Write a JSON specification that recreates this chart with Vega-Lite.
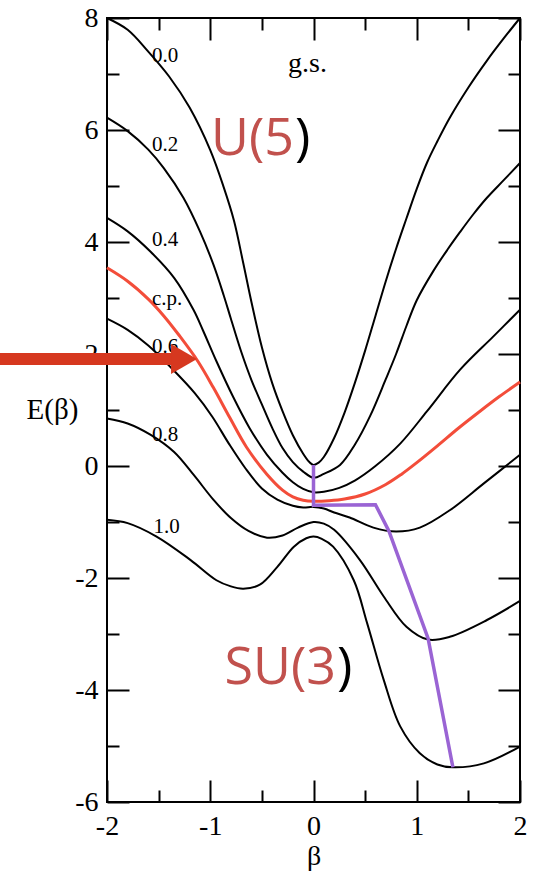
{
  "$schema": "https://vega.github.io/schema/vega-lite/v6.json",
  "width": 413,
  "height": 784,
  "autosize": {"type": "none"},
  "padding": {"left": 107, "top": 18, "right": 17, "bottom": 73},
  "background": "white",
  "config": {
    "view": {"stroke": "black", "strokeWidth": 2},
    "font": "Liberation Serif",
    "axis": {"labelFont": "Liberation Serif", "labelFontSize": 28, "labelColor": "black", "titleFont": "Liberation Serif", "titleFontWeight": "normal", "titleColor": "black"}
  },
  "datasets": {
    "black": [
      {"c":"0.0","b":-2,"E":8},{"c":"0.0","b":-1.8,"E":7.79},{"c":"0.0","b":-1.6,"E":7.4},{"c":"0.0","b":-1.4,"E":6.96},{"c":"0.0","b":-1.2,"E":6.4},{"c":"0.0","b":-1,"E":5.64},{"c":"0.0","b":-0.87,"E":4.98},{"c":"0.0","b":-0.77,"E":4.38},{"c":"0.0","b":-0.68,"E":3.62},{"c":"0.0","b":-0.6,"E":2.92},{"c":"0.0","b":-0.5,"E":2.12},{"c":"0.0","b":-0.4,"E":1.48},{"c":"0.0","b":-0.3,"E":0.98},{"c":"0.0","b":-0.2,"E":0.55},{"c":"0.0","b":-0.1,"E":0.22},{"c":"0.0","b":-0.04,"E":0.07},{"c":"0.0","b":0,"E":0.02},{"c":"0.0","b":0.05,"E":0.06},{"c":"0.0","b":0.1,"E":0.16},{"c":"0.0","b":0.2,"E":0.5},{"c":"0.0","b":0.3,"E":0.95},{"c":"0.0","b":0.4,"E":1.48},{"c":"0.0","b":0.5,"E":2.06},{"c":"0.0","b":0.6,"E":2.68},{"c":"0.0","b":0.7,"E":3.3},{"c":"0.0","b":0.8,"E":3.88},{"c":"0.0","b":0.9,"E":4.42},{"c":"0.0","b":1,"E":4.95},{"c":"0.0","b":1.1,"E":5.42},{"c":"0.0","b":1.2,"E":5.8},{"c":"0.0","b":1.32,"E":6.22},{"c":"0.0","b":1.5,"E":6.76},{"c":"0.0","b":1.68,"E":7.24},{"c":"0.0","b":1.84,"E":7.63},{"c":"0.0","b":2,"E":8},
      {"c":"0.2","b":-2,"E":6.22},{"c":"0.2","b":-1.8,"E":5.98},{"c":"0.2","b":-1.6,"E":5.65},{"c":"0.2","b":-1.45,"E":5.32},{"c":"0.2","b":-1.26,"E":4.79},{"c":"0.2","b":-1.1,"E":4.19},{"c":"0.2","b":-0.97,"E":3.6},{"c":"0.2","b":-0.87,"E":3.05},{"c":"0.2","b":-0.8,"E":2.63},{"c":"0.2","b":-0.7,"E":2.04},{"c":"0.2","b":-0.6,"E":1.53},{"c":"0.2","b":-0.5,"E":1.1},{"c":"0.2","b":-0.4,"E":0.68},{"c":"0.2","b":-0.3,"E":0.32},{"c":"0.2","b":-0.2,"E":0.07},{"c":"0.2","b":-0.1,"E":-0.1},{"c":"0.2","b":0,"E":-0.21},{"c":"0.2","b":0.1,"E":-0.14},{"c":"0.2","b":0.257,"E":0.02},{"c":"0.2","b":0.4,"E":0.38},{"c":"0.2","b":0.55,"E":0.9},{"c":"0.2","b":0.7,"E":1.55},{"c":"0.2","b":0.8,"E":2.0},{"c":"0.2","b":0.9,"E":2.5},{"c":"0.2","b":1,"E":2.96},{"c":"0.2","b":1.16,"E":3.48},{"c":"0.2","b":1.3,"E":3.87},{"c":"0.2","b":1.42,"E":4.18},{"c":"0.2","b":1.55,"E":4.5},{"c":"0.2","b":1.68,"E":4.79},{"c":"0.2","b":1.84,"E":5.1},{"c":"0.2","b":2,"E":5.41},
      {"c":"0.4","b":-2,"E":4.43},{"c":"0.4","b":-1.8,"E":4.19},{"c":"0.4","b":-1.58,"E":3.83},{"c":"0.4","b":-1.35,"E":3.36},{"c":"0.4","b":-1.16,"E":2.78},{"c":"0.4","b":-1.07,"E":2.42},{"c":"0.4","b":-0.94,"E":1.87},{"c":"0.4","b":-0.78,"E":1.24},{"c":"0.4","b":-0.62,"E":0.68},{"c":"0.4","b":-0.45,"E":0.2},{"c":"0.4","b":-0.3,"E":-0.12},{"c":"0.4","b":-0.2,"E":-0.29},{"c":"0.4","b":-0.1,"E":-0.41},{"c":"0.4","b":0,"E":-0.47},{"c":"0.4","b":0.1,"E":-0.46},{"c":"0.4","b":0.25,"E":-0.39},{"c":"0.4","b":0.4,"E":-0.26},{"c":"0.4","b":0.6,"E":0.0},{"c":"0.4","b":0.84,"E":0.4},{"c":"0.4","b":1.1,"E":0.98},{"c":"0.4","b":1.42,"E":1.72},{"c":"0.4","b":1.74,"E":2.31},{"c":"0.4","b":2,"E":2.79},
      {"c":"0.6","b":-2,"E":2.63},{"c":"0.6","b":-1.8,"E":2.43},{"c":"0.6","b":-1.6,"E":2.15},{"c":"0.6","b":-1.35,"E":1.7},{"c":"0.6","b":-1.15,"E":1.3},{"c":"0.6","b":-0.98,"E":0.88},{"c":"0.6","b":-0.82,"E":0.4},{"c":"0.6","b":-0.66,"E":-0.04},{"c":"0.6","b":-0.5,"E":-0.4},{"c":"0.6","b":-0.35,"E":-0.6},{"c":"0.6","b":-0.2,"E":-0.71},{"c":"0.6","b":-0.1,"E":-0.74},{"c":"0.6","b":0,"E":-0.73},{"c":"0.6","b":0.1,"E":-0.76},{"c":"0.6","b":0.2,"E":-0.83},{"c":"0.6","b":0.35,"E":-0.92},{"c":"0.6","b":0.58,"E":-1.1},{"c":"0.6","b":0.8,"E":-1.17},{"c":"0.6","b":1.03,"E":-1.1},{"c":"0.6","b":1.32,"E":-0.79},{"c":"0.6","b":1.65,"E":-0.31},{"c":"0.6","b":2,"E":0.2},
      {"c":"0.8","b":-2,"E":0.85},{"c":"0.8","b":-1.8,"E":0.76},{"c":"0.8","b":-1.58,"E":0.56},{"c":"0.8","b":-1.35,"E":0.25},{"c":"0.8","b":-1.16,"E":-0.16},{"c":"0.8","b":-0.97,"E":-0.6},{"c":"0.8","b":-0.8,"E":-0.93},{"c":"0.8","b":-0.63,"E":-1.16},{"c":"0.8","b":-0.45,"E":-1.28},{"c":"0.8","b":-0.3,"E":-1.24},{"c":"0.8","b":-0.15,"E":-1.1},{"c":"0.8","b":0,"E":-1.0},{"c":"0.8","b":0.1,"E":-1.03},{"c":"0.8","b":0.2,"E":-1.14},{"c":"0.8","b":0.45,"E":-1.68},{"c":"0.8","b":0.68,"E":-2.33},{"c":"0.8","b":0.9,"E":-2.87},{"c":"0.8","b":1.11,"E":-3.1},{"c":"0.8","b":1.32,"E":-3.05},{"c":"0.8","b":1.68,"E":-2.75},{"c":"0.8","b":2,"E":-2.41},
      {"c":"1.0","b":-2,"E":-0.96},{"c":"1.0","b":-1.8,"E":-1.02},{"c":"1.0","b":-1.52,"E":-1.26},{"c":"1.0","b":-1.19,"E":-1.68},{"c":"1.0","b":-0.94,"E":-2.04},{"c":"1.0","b":-0.8,"E":-2.15},{"c":"1.0","b":-0.68,"E":-2.19},{"c":"1.0","b":-0.52,"E":-2.12},{"c":"1.0","b":-0.35,"E":-1.8},{"c":"1.0","b":-0.19,"E":-1.44},{"c":"1.0","b":-0.07,"E":-1.29},{"c":"1.0","b":0,"E":-1.26},{"c":"1.0","b":0.08,"E":-1.3},{"c":"1.0","b":0.19,"E":-1.44},{"c":"1.0","b":0.39,"E":-2.04},{"c":"1.0","b":0.52,"E":-2.81},{"c":"1.0","b":0.68,"E":-3.82},{"c":"1.0","b":0.84,"E":-4.65},{"c":"1.0","b":1.03,"E":-5.13},{"c":"1.0","b":1.2,"E":-5.33},{"c":"1.0","b":1.35,"E":-5.38},{"c":"1.0","b":1.65,"E":-5.31},{"c":"1.0","b":2,"E":-5.01}
    ],
    "cp": [
      {"b":-2,"E":3.54},{"b":-1.8,"E":3.3},{"b":-1.6,"E":2.98},{"b":-1.45,"E":2.68},{"b":-1.3,"E":2.33},{"b":-1.12,"E":1.87},{"b":-0.97,"E":1.4},{"b":-0.81,"E":0.86},{"b":-0.65,"E":0.34},{"b":-0.45,"E":-0.15},{"b":-0.3,"E":-0.43},{"b":-0.2,"E":-0.55},{"b":-0.1,"E":-0.61},{"b":0,"E":-0.63},{"b":0.15,"E":-0.62},{"b":0.3,"E":-0.59},{"b":0.5,"E":-0.5},{"b":0.7,"E":-0.33},{"b":0.85,"E":-0.15},{"b":1,"E":0.06},{"b":1.2,"E":0.36},{"b":1.4,"E":0.67},{"b":1.6,"E":0.96},{"b":1.8,"E":1.24},{"b":2,"E":1.5}
    ],
    "path": [
      {"k":1,"b":0,"E":0.02},{"k":2,"b":0,"E":-0.7},{"k":3,"b":0.6,"E":-0.69},{"k":4,"b":0.73,"E":-1.16},{"k":5,"b":1.11,"E":-3.08},{"k":6,"b":1.35,"E":-5.38}
    ],
    "labels": [
      {"t":"0.0","b":-1.564,"E":7.21},{"t":"0.2","b":-1.564,"E":5.625},{"t":"0.4","b":-1.564,"E":3.93},{"t":"c.p.","b":-1.564,"E":2.875},{"t":"0.6","b":-1.564,"E":2.02},{"t":"0.8","b":-1.564,"E":0.446},{"t":"1.0","b":-1.55,"E":-1.196}
    ],
    "gs": [{"t":"g.s.","b":-0.247,"E":7.036}],
    "group": [{"red":"U(5","blk":")","b":-0.189,"E":5.553},{"red":"SU(3","blk":")","b":0.218,"E":-3.89}],
    "arrow": [{"b":-3.04,"b2":-1.37,"E":1.91}],
    "head": [{"b":-1.254,"E":1.91}],
    "frame": [{"b":-2,"E":-6},{"b":2,"E":8}]
  },
  "layer": [
    {
      "layer": [
        {
          "data": {"name": "black"},
          "mark": {"type": "line", "stroke": "black", "strokeWidth": 2, "interpolate": "catmull-rom"},
          "encoding": {
            "x": {"field": "b", "type": "quantitative", "scale": {"domain": [-2, 2], "nice": false, "zero": false},
              "axis": {"orient": "bottom", "values": [-2,-1.5,-1,-0.5,0,0.5,1,1.5,2],
                "tickSize": {"condition": {"test": "datum.value % 1 === 0", "value": -22}, "value": -12},
                "tickColor": "black", "tickWidth": 2, "domain": false, "grid": false,
                "labelExpr": "datum.value % 1 === 0 ? '' + datum.value : ''",
                "labelFont": "Liberation Serif", "labelFontSize": 28, "labelColor": "black", "labelPadding": 32,
                "labelFlush": false, "labelOverlap": false,
                "title": "β", "titleFont": "Liberation Serif", "titleFontSize": 28, "titleFontWeight": "normal", "titleColor": "black",
                "titleBaseline": "alphabetic", "titleY": 62}},
            "y": {"field": "E", "type": "quantitative", "scale": {"domain": [-6, 8], "nice": false, "zero": false},
              "axis": {"orient": "left", "values": [-6,-5,-4,-3,-2,-1,0,1,2,3,4,5,6,7,8],
                "tickSize": {"condition": {"test": "datum.value % 2 === 0", "value": -22}, "value": -12},
                "tickColor": "black", "tickWidth": 2, "domain": false, "grid": false,
                "labelExpr": "datum.value % 2 === 0 ? '' + datum.value : ''",
                "labelFont": "Liberation Serif", "labelFontSize": 28, "labelColor": "black", "labelPadding": 31,
                "labelFlush": false, "labelOverlap": false,
                "title": "E(β)", "titleFont": "Liberation Serif", "titleFontSize": 29, "titleFontWeight": "normal", "titleColor": "black",
                "titleAngle": 0, "titleAlign": "center", "titleBaseline": "alphabetic", "titleX": -55, "titleY": 400}},
            "detail": {"field": "c", "type": "nominal"}
          }
        },
        {
          "data": {"name": "cp"},
          "mark": {"type": "line", "stroke": "#f34d3a", "strokeWidth": 3, "interpolate": "catmull-rom"},
          "encoding": {"x": {"field": "b", "type": "quantitative"}, "y": {"field": "E", "type": "quantitative"}}
        },
        {
          "data": {"name": "path"},
          "mark": {"type": "line", "stroke": "#9a64d4", "strokeWidth": 3.5},
          "encoding": {"x": {"field": "b", "type": "quantitative"}, "y": {"field": "E", "type": "quantitative"}, "order": {"field": "k", "type": "quantitative"}}
        },
        {
          "data": {"name": "labels"},
          "mark": {"type": "text", "font": "Liberation Serif", "fontSize": 21, "align": "left", "baseline": "alphabetic", "color": "black"},
          "encoding": {"x": {"field": "b", "type": "quantitative"}, "y": {"field": "E", "type": "quantitative"}, "text": {"field": "t"}}
        },
        {
          "data": {"name": "gs"},
          "mark": {"type": "text", "font": "Liberation Serif", "fontSize": 28, "align": "left", "baseline": "alphabetic", "color": "black"},
          "encoding": {"x": {"field": "b", "type": "quantitative"}, "y": {"field": "E", "type": "quantitative"}, "text": {"field": "t"}}
        },
        {
          "data": {"name": "group"},
          "mark": {"type": "text", "font": "Open Sans", "fontSize": 52, "align": "right", "baseline": "alphabetic", "color": "#c1514d"},
          "encoding": {"x": {"field": "b", "type": "quantitative"}, "y": {"field": "E", "type": "quantitative"}, "text": {"field": "red"}}
        },
        {
          "data": {"name": "group"},
          "mark": {"type": "text", "font": "Open Sans", "fontSize": 52, "align": "left", "baseline": "alphabetic", "color": "black", "dx": 1},
          "encoding": {"x": {"field": "b", "type": "quantitative"}, "y": {"field": "E", "type": "quantitative"}, "text": {"field": "blk"}}
        },
        {
          "data": {"name": "arrow"},
          "mark": {"type": "rule", "stroke": "#d6381f", "strokeWidth": 12, "clip": false},
          "encoding": {"x": {"field": "b", "type": "quantitative"}, "x2": {"field": "b2"}, "y": {"field": "E", "type": "quantitative"}}
        },
        {
          "data": {"name": "head"},
          "mark": {"type": "point", "shape": "triangle-right", "size": 900, "filled": true, "color": "#d6381f", "opacity": 1, "clip": false},
          "encoding": {"x": {"field": "b", "type": "quantitative"}, "y": {"field": "E", "type": "quantitative"}}
        }
      ]
    },
    {
      "data": {"name": "frame"},
      "mark": {"type": "point", "opacity": 0},
      "encoding": {
        "x": {"field": "b", "type": "quantitative", "scale": {"domain": [-2, 2], "nice": false, "zero": false},
          "axis": {"orient": "top", "values": [-2,-1.5,-1,-0.5,0,0.5,1,1.5,2],
            "tickSize": {"condition": {"test": "datum.value % 1 === 0", "value": -22}, "value": -12},
            "tickColor": "black", "tickWidth": 2, "domain": false, "grid": false, "labels": false, "title": null}},
        "y": {"field": "E", "type": "quantitative", "scale": {"domain": [-6, 8], "nice": false, "zero": false},
          "axis": {"orient": "right", "values": [-6,-5,-4,-3,-2,-1,0,1,2,3,4,5,6,7,8],
            "tickSize": {"condition": {"test": "datum.value % 2 === 0", "value": -22}, "value": -12},
            "tickColor": "black", "tickWidth": 2, "domain": false, "grid": false, "labels": false, "title": null}}
      }
    }
  ],
  "resolve": {"scale": {"x": "independent", "y": "independent"}}
}
